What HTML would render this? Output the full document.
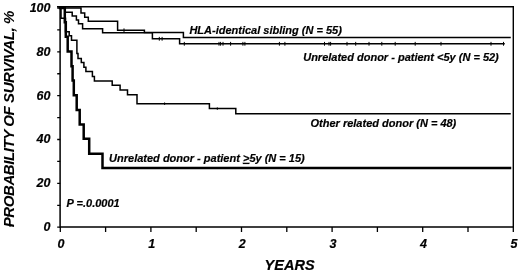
<!DOCTYPE html>
<html><head><meta charset="utf-8"><style>
html,body{margin:0;padding:0;background:#fff;width:520px;height:272px;overflow:hidden}
svg{display:block;will-change:transform}
text{font-family:"Liberation Sans",sans-serif;font-weight:bold;font-style:italic;fill:#000;stroke:#000;stroke-width:0.2px}
</style></head><body>
<svg width="520" height="272" viewBox="0 0 520 272"><path d="M57,6.8 H513.3 V227" stroke="#000" stroke-width="1.4" fill="none"/><path d="M60.1,6.2 V227.6 M59.4,226.9 H513.8" stroke="#000" stroke-width="1.5" fill="none"/><path d="M57.2,227.20H60.3M57.2,205.28H60.3M57.2,183.36H60.3M57.2,161.44H60.3M57.2,139.52H60.3M57.2,117.60H60.3M57.2,95.68H60.3M57.2,73.76H60.3M57.2,51.84H60.3M57.2,29.92H60.3M57.2,8.00H60.3" stroke="#000" stroke-width="1.3"/><path d="M60.30,227V231.9M105.60,227V231.9M150.90,227V231.9M196.20,227V231.9M241.50,227V231.9M286.80,227V231.9M332.10,227V231.9M377.40,227V231.9M422.70,227V231.9M468.00,227V231.9M513.30,227V231.9" stroke="#000" stroke-width="1.3"/><path d="M60,8.0 H81 V12.9 H84.7 V17.2 H88.3 V21.2 H117.6 V30.3 H144.4 V32.6 H183.4 V37.6 H510" stroke="#000" stroke-width="1.5" fill="none" stroke-linejoin="miter" stroke-linecap="square"/><path d="M60,8.0 H64.8 V12.3 H72.2 V15.9 H76.4 V19.9 H78.5 V23.8 H82.6 V28.8 H102.6 V32.8 H152.4 V38.8 H179.6 V43.8 H504" stroke="#000" stroke-width="1.5" fill="none" stroke-linejoin="miter" stroke-linecap="square"/><path d="M60,8.0 H61.0 V18.2 H65.5 V31.8 H69.2 V35.7 H71.5 V40.3 H76.9 V53.6 H78 V58.5 H81.3 V62.5 H83.9 V67.2 H85.9 V71.6 H92.4 V76.4 H94.4 V80.9 H112.2 V85.2 H120.1 V90 H127.5 V94.8 H137 V103.7 H209.4 V108.6 H235.8 V113.7 H510" stroke="#000" stroke-width="1.5" fill="none" stroke-linejoin="miter" stroke-linecap="square"/><path d="M60,8.0 H64.8 V22.2 H65.8 V36.8 H67.7 V51.6 H71.5 V66.3 H72.6 V80.6 H73.8 V95.3 H76.7 V110 H79.7 V124.6 H83.7 V138.8 H89.2 V153.8 H102.5 V168.1 H510" stroke="#000" stroke-width="2.5" fill="none" stroke-linejoin="miter" stroke-linecap="square"/><path d="M124,28.40V32.20M159.3,36.90V40.70M162.1,36.90V40.70M184.3,41.90V45.70M219,41.90V45.70M220.6,41.90V45.70M223,41.90V45.70M230.6,41.90V45.70M242.9,41.90V45.70M244.9,41.90V45.70M279.4,41.90V45.70M284.9,41.90V45.70M324.5,41.90V45.70M329,41.90V45.70M330.6,41.90V45.70M347,41.90V45.70M355.7,41.90V45.70M369,41.90V45.70M381.8,41.90V45.70M395.2,41.90V45.70M415.2,41.90V45.70M441,41.90V45.70M491,41.90V45.70M503.5,41.90V45.70" stroke="#000" stroke-width="1"/><path d="M164.6,102.40V105.00M217.3,107.30V109.90" stroke="#000" stroke-width="0.9"/><text x="189.4" y="33.5" font-family="Liberation Sans, sans-serif" font-weight="bold" font-style="italic" font-size="11">HLA-identical sibling (N = 55)</text><text x="303.2" y="60.8" font-family="Liberation Sans, sans-serif" font-weight="bold" font-style="italic" font-size="11">Unrelated donor - patient &lt;5y (N = 52)</text><text x="310.5" y="126.5" font-family="Liberation Sans, sans-serif" font-weight="bold" font-style="italic" font-size="11">Other related donor (N = 48)</text><text x="109.1" y="161.9" font-family="Liberation Sans, sans-serif" font-weight="bold" font-style="italic" font-size="11">Unrelated donor - patient <tspan text-decoration="underline">&gt;</tspan>5y (N = 15)</text><text x="66.6" y="206.6" font-family="Liberation Sans, sans-serif" font-weight="bold" font-style="italic" font-size="11">P =.0.0001</text><text x="50.5" y="11.90" font-family="Liberation Sans, sans-serif" font-weight="bold" font-style="italic" font-size="12.5" text-anchor="end">100</text><text x="50.5" y="55.74" font-family="Liberation Sans, sans-serif" font-weight="bold" font-style="italic" font-size="12.5" text-anchor="end">80</text><text x="50.5" y="99.58" font-family="Liberation Sans, sans-serif" font-weight="bold" font-style="italic" font-size="12.5" text-anchor="end">60</text><text x="50.5" y="143.42" font-family="Liberation Sans, sans-serif" font-weight="bold" font-style="italic" font-size="12.5" text-anchor="end">40</text><text x="50.5" y="187.26" font-family="Liberation Sans, sans-serif" font-weight="bold" font-style="italic" font-size="12.5" text-anchor="end">20</text><text x="50.5" y="231.10" font-family="Liberation Sans, sans-serif" font-weight="bold" font-style="italic" font-size="12.5" text-anchor="end">0</text><text x="61.10" y="247.9" font-family="Liberation Sans, sans-serif" font-weight="bold" font-style="italic" font-size="12.5" text-anchor="middle">0</text><text x="151.70" y="247.9" font-family="Liberation Sans, sans-serif" font-weight="bold" font-style="italic" font-size="12.5" text-anchor="middle">1</text><text x="242.30" y="247.9" font-family="Liberation Sans, sans-serif" font-weight="bold" font-style="italic" font-size="12.5" text-anchor="middle">2</text><text x="332.90" y="247.9" font-family="Liberation Sans, sans-serif" font-weight="bold" font-style="italic" font-size="12.5" text-anchor="middle">3</text><text x="423.50" y="247.9" font-family="Liberation Sans, sans-serif" font-weight="bold" font-style="italic" font-size="12.5" text-anchor="middle">4</text><text x="514.10" y="247.9" font-family="Liberation Sans, sans-serif" font-weight="bold" font-style="italic" font-size="12.5" text-anchor="middle">5</text><text x="289.6" y="270" font-family="Liberation Sans, sans-serif" font-weight="bold" font-style="italic" font-size="14.5" text-anchor="middle">YEARS</text><text transform="translate(14.0,119.2) rotate(-90)" x="0" y="0" font-family="Liberation Sans, sans-serif" font-weight="bold" font-style="italic" font-size="15" letter-spacing="-0.42" text-anchor="middle" style="stroke-width:0.05px">PROBABILITY OF SURVIVAL, %</text></svg>
</body></html>
